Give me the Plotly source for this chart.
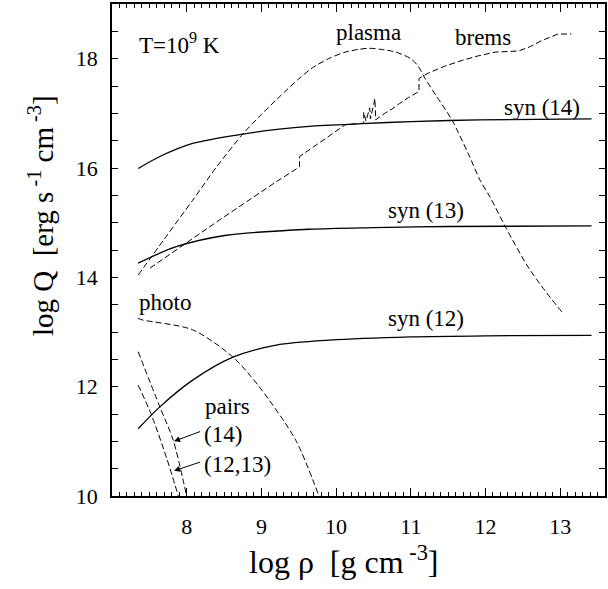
import plotly.graph_objects as go

# log(rho) / log(Q) curves at T = 1e9 K
syn14_x = [7.35, 7.64, 8.08, 8.75, 9.24, 9.64, 10.35, 11.0, 11.91, 13.42]
syn14_y = [15.99, 16.21, 16.45, 16.62, 16.71, 16.76, 16.81, 16.85, 16.88, 16.90]

syn13_x = [7.35, 7.86, 8.53, 9.64, 10.5, 11.5, 13.42]
syn13_y = [14.26, 14.56, 14.77, 14.88, 14.91, 14.93, 14.94]

syn12_x = [7.35, 7.64, 8.08, 8.62, 9.2, 9.91, 11.0, 12.0, 13.42]
syn12_y = [11.23, 11.63, 12.12, 12.54, 12.76, 12.85, 12.91, 12.93, 12.94]

plasma_x = [7.35, 7.7, 8.08, 8.4, 8.75, 9.0, 9.24, 9.5, 9.68, 9.9, 10.1, 10.3, 10.44, 10.6,
            10.8, 11.0, 11.1, 11.19, 11.35, 11.55, 11.77, 11.93, 12.06, 12.28, 12.57, 12.8, 13.02]
plasma_y = [14.04, 14.70, 15.41, 16.02, 16.62, 16.98, 17.30, 17.63, 17.83, 18.00, 18.11, 18.17, 18.19, 18.17,
            18.12, 18.00, 17.86, 17.64, 17.30, 16.88, 16.26, 15.77, 15.47, 14.89, 14.19, 13.75, 13.37]

brems_x = [7.51, 7.95, 8.44, 9.2, 9.51, 9.51, 9.64, 9.86, 10.12, 10.37, 10.37, 10.40, 10.45, 10.46,
           10.52, 10.53, 10.65, 10.75, 10.85, 10.97, 11.11, 11.11, 11.24, 11.45, 11.69, 11.9,
           12.13, 12.44, 12.60, 12.75, 12.97, 13.15]
brems_y = [14.17, 14.59, 15.05, 15.75, 16.02, 16.21, 16.33, 16.54, 16.79, 16.82, 17.02, 16.86, 17.10, 16.90,
           17.27, 16.88, 17.00, 17.08, 17.18, 17.29, 17.40, 17.64, 17.74, 17.86, 17.97, 18.05,
           18.12, 18.14, 18.22, 18.33, 18.45, 18.45]

photo_x = [7.35, 7.41, 8.08, 8.62, 8.97, 9.46, 9.77]
photo_y = [13.25, 13.22, 13.04, 12.54, 12.00, 11.02, 10.0]

pairs14_x = [7.35, 7.64, 7.82, 8.0]
pairs14_y = [12.64, 11.63, 11.02, 9.99]

pairs1213_x = [7.35, 7.52, 7.73, 7.89]
pairs1213_y = [12.03, 11.51, 10.70, 9.99]

FONT = '"Liberation Serif", "Times New Roman", Times, serif'
DASH = "6px,3px"

fig = go.Figure()

def add_line(x, y, dashed, smooth=True):
    fig.add_trace(go.Scatter(
        x=x, y=y, mode="lines",
        line=dict(color="black", width=1.0 if dashed else 1.3,
                  dash=DASH if dashed else "solid",
                  shape="spline" if smooth else "linear", smoothing=0.8),
        hoverinfo="skip", showlegend=False))

add_line(syn14_x, syn14_y, False)
add_line(syn13_x, syn13_y, False)
add_line(syn12_x, syn12_y, False)
add_line(plasma_x, plasma_y, True)
add_line(brems_x, brems_y, True, smooth=False)
add_line(photo_x, photo_y, True)
add_line(pairs14_x, pairs14_y, True)
add_line(pairs1213_x, pairs1213_y, True)

labels = [
    ("T=10<sup>9</sup> K", 7.33, 18.27, "left"),
    ("plasma", 10.44, 18.47, "center"),
    ("brems", 11.97, 18.38, "center"),
    ("syn (14)", 12.75, 17.10, "center"),
    ("syn (13)", 11.21, 15.22, "center"),
    ("syn (12)", 11.21, 13.25, "center"),
    ("photo", 7.33, 13.54, "left"),
    ("pairs", 8.55, 11.63, "center"),
    ("(14)", 8.21, 11.12, "left"),
    ("(12,13)", 8.21, 10.57, "left"),
]
for text, x, y, anchor in labels:
    fig.add_annotation(x=x, y=y, text=text, showarrow=False, xanchor=anchor, yanchor="middle",
                       font=dict(family=FONT, size=23, color="black"))

# pointers to the two pair curves
for (tx, ty, hx, hy) in [(8.20, 11.19, 7.83, 11.00), (8.20, 10.63, 7.83, 10.46)]:
    fig.add_annotation(x=hx, y=hy, ax=tx, ay=ty, axref="x", ayref="y", xref="x", yref="y",
                       text="", showarrow=True, arrowhead=2, arrowsize=1.2, arrowwidth=1,
                       arrowcolor="black", standoff=0)

# axis titles
fig.add_annotation(x=0.47, y=-0.13, xref="paper", yref="paper", showarrow=False,
                   text="log \u03c1  [g cm<sup> -3</sup>]", xanchor="center", yanchor="middle",
                   font=dict(family=FONT, size=32, color="black"))
fig.add_annotation(x=-0.145, y=0.57, xref="paper", yref="paper", showarrow=False,
                   text="log Q  [erg s<sup> -1</sup> cm<sup> -3</sup>]", textangle=-90,
                   xanchor="center", yanchor="middle",
                   font=dict(family=FONT, size=29, color="black"))

fig.update_layout(
    width=608, height=589,
    margin=dict(l=112, r=1, t=4, b=93),
    paper_bgcolor="white", plot_bgcolor="white",
    font=dict(family=FONT, color="black"),
    xaxis=dict(range=[7.0, 13.6], tickmode="array", tickvals=[8, 9, 10, 11, 12, 13],
               ticks="inside", ticklen=8, tickwidth=1, tickcolor="black",
               showline=True, linecolor="black", linewidth=1.5, mirror="ticks",
               showgrid=False, zeroline=False,
               tickfont=dict(family=FONT, size=22, color="black"), ticklabelstandoff=10,
               minor=dict(dtick=0.1, tick0=7.0, ticks="inside", ticklen=4, tickcolor="black",
                          tickwidth=1, showgrid=False)),
    yaxis=dict(range=[10, 19], tickmode="linear", tick0=10, dtick=2,
               ticks="inside", ticklen=6, tickwidth=1, tickcolor="black",
               showline=True, linecolor="black", linewidth=1.5, mirror="ticks",
               showgrid=False, zeroline=False,
               tickfont=dict(family=FONT, size=22, color="black"), ticklabelstandoff=8,
               minor=dict(dtick=0.5, tick0=10, ticks="inside", ticklen=6, tickcolor="black",
                          tickwidth=1, showgrid=False)),
)

fig.write_html("out.html")
